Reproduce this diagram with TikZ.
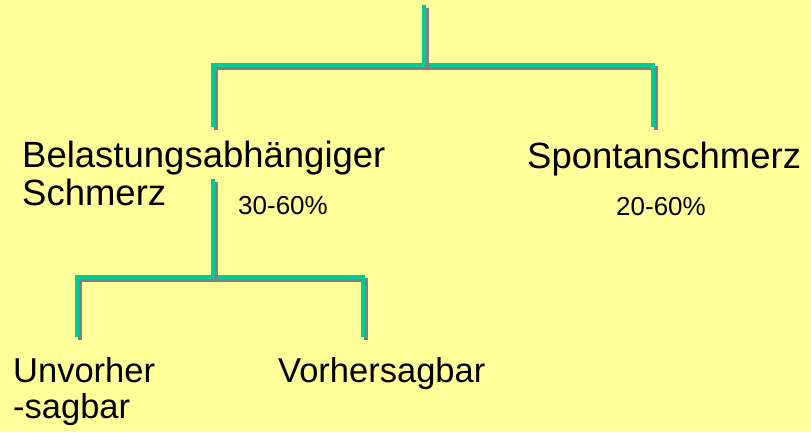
\documentclass[tikz,border=0pt]{standalone}
\usepackage{fontspec}
\setmainfont{Liberation Sans}
\definecolor{paper}{HTML}{FFFF99}
\definecolor{linegreen}{HTML}{00CC99}
\definecolor{shadowgray}{HTML}{808080}
\tikzset{
  branch/.style={draw=linegreen, line width=4pt, line cap=butt, line join=miter,
    preaction={draw=shadowgray, line width=4pt, transform canvas={shift={(3pt,-3pt)}}}},
  bigtext/.style={anchor=base west, inner sep=0pt, align=left,
    font=\fontsize{36.5}{38}\selectfont},
  midtext/.style={anchor=base west, inner sep=0pt, align=left,
    font=\fontsize{34.5}{36}\selectfont},
  pcttext/.style={anchor=base west, inner sep=0pt,
    font=\fontsize{26}{28}\selectfont},
}
\begin{document}
\begin{tikzpicture}[x=1pt,y=-1pt]
  % page background
  \fill[paper] (0,0) rectangle (811,432);
  \useasboundingbox (0,0) rectangle (811,432);

  % labels (multi-line nodes are placed by the baseline of their last line)
  \node[bigtext] (belast) at (22,205) {Belastungsabhängiger\\Schmerz};
  \node[bigtext] (spontan) at (527,168) {Spontanschmerz};
  \node[pcttext] (p1) at (238,214) {30-60\%};
  \node[pcttext] (p2) at (616,215) {20-60\%};
  \node[midtext] (unvor) at (13,418) {Unvorher\\-sagbar};
  \node[midtext] (vorher) at (278,382) {Vorhersagbar};

  % branch end points of the tree
  \coordinate (root) at (424,5);
  \coordinate (fork1) at (424,65);
  \coordinate (belastTop) at (213,127);
  \coordinate (spontanTop) at (653,127);
  \coordinate (belastFoot) at (213,179);
  \coordinate (fork2) at (213,277);
  \coordinate (unvorTop) at (77,337);
  \coordinate (vorherTop) at (363,337);

  % first level
  \path[branch] (belastTop) |- (fork1) -| (spontanTop);
  \path[branch] (root) -- (fork1);
  % second level
  \path[branch] (unvorTop) |- (fork2) -| (vorherTop);
  \path[branch] (belastFoot) -- (fork2);
\end{tikzpicture}
\end{document}
